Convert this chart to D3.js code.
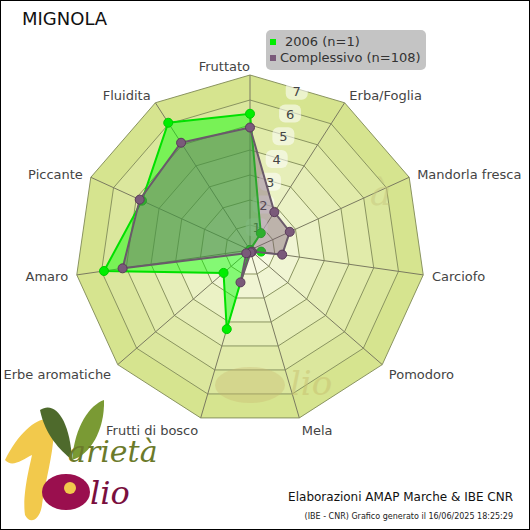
<!DOCTYPE html><html><head><meta charset="utf-8">
<script src="https://cdn.jsdelivr.net/npm/d3@7"></script>
<style>body{margin:0;background:#fff}svg{display:block;font-family:"DejaVu Sans",Verdana,sans-serif}</style>
</head><body><svg id="c" width="530" height="530"></svg>
<script>
const axesLabels=["Fruttato","Erba/Foglia","Mandorla fresca","Carciofo","Pomodoro","Mela","Frutti di bosco","Erbe aromatiche","Amaro","Piccante","Fluidita"];
const series2006=[5.45,0.8,0,0.45,0,0,3.3,1.4,5.9,4.75,6.05];
const seriesAll=[4.9,1.8,1.75,1.3,0.1,0.1,1.35,0.2,5.15,4.85,5.1];
const tickVals=[1,2,3,4,5,6,7];
const legendLabels=["2006 (n=1)","Complessivo (n=108)"];

const svg=d3.select("#c");
svg.append("rect").attr("x",0.5).attr("y",0.5).attr("width",529).attr("height",529).attr("fill","#fff").attr("stroke","#000");
const cx=250,cy=250,N=axesLabels.length;
const r=d3.scaleLinear().domain([0,7]).range([0,175]);
const ang=d3.scaleLinear().domain([0,N]).range([0,2*Math.PI]);
const pt=(i,v)=>[cx+r(v)*Math.sin(ang(i)),cy-r(v)*Math.cos(ang(i))];
const ring=v=>d3.range(N).map(i=>pt(i,v));
const line=d3.line().curve(d3.curveLinearClosed);
const col=d3.scaleLinear().domain([0,7]).range(["#fbfcee","#d6e48f"]);
const g=svg.append("g");
[...tickVals].reverse().forEach(v=>{
  g.append("path").attr("d",line(ring(v))).attr("fill",col(v)).attr("stroke","#8a9460").attr("stroke-width",1);
});
d3.range(N).forEach(i=>{const p=pt(i,7);g.append("line").attr("x1",cx).attr("y1",cy).attr("x2",p[0]).attr("y2",p[1]).attr("stroke","#7a7a60").attr("stroke-width",1);});
// watermark
g.append("text").attr("x",370).attr("y",205).attr("font-size",36).attr("font-style","italic").attr("fill","#c8c880").attr("opacity",0.5).attr("font-family","DejaVu Serif").text("à");
g.append("ellipse").attr("cx",250).attr("cy",385).attr("rx",35).attr("ry",18).attr("fill","#c8b870").attr("opacity",0.35);
g.append("text").attr("x",290).attr("y",395).attr("font-size",34).attr("font-style","italic").attr("fill","#c8c070").attr("opacity",0.5).attr("font-family","DejaVu Serif").text("lio");
// tick labels
const ta=ang(0.5);
tickVals.forEach(v=>{const rr=23.7*v;const x=cx+rr*Math.sin(ta),y=cy-rr*Math.cos(ta);
  g.append("rect").attr("x",x-11).attr("y",y-9).attr("width",22).attr("height",18).attr("rx",6).attr("fill","#fff").attr("opacity",0.55);
  g.append("text").attr("x",x).attr("y",y+5).attr("text-anchor","middle").attr("font-size",13).attr("fill","#444").text(v);});
// series
function drawSeries(vals,fill,fo,stroke,dot,dotStroke){
  const pts=vals.map((v,i)=>pt(i,v));
  g.append("path").attr("d",line(pts)).attr("fill",fill).attr("fill-opacity",fo).attr("stroke",stroke).attr("stroke-width",2);
  pts.forEach(p=>g.append("circle").attr("cx",p[0]).attr("cy",p[1]).attr("r",4.5).attr("fill",dot).attr("stroke",dotStroke).attr("stroke-width",1));
}
drawSeries(series2006,"#00ff00",0.45,"#00e000","#00ee00","#00cc00");
drawSeries(seriesAll,"#705070",0.4,"#6a5a6a","#7a5a7a","#5a3a5a");
// axis labels
axesLabels.forEach((t,i)=>{const a=ang(i),s=Math.sin(a),c=Math.cos(a);
  const p=pt(i,7.35);let anchor=Math.abs(s)<0.1?"end":(s>0?"start":"end");
  let dy=c<-0.5?9:5;
  svg.append("text").attr("x",p[0]).attr("y",p[1]+dy).attr("text-anchor",anchor).attr("font-size",13).attr("fill","#444").text(t);});
// title
svg.append("text").attr("x",22).attr("y",25).attr("font-size",18).attr("fill","#111").text("MIGNOLA");
// legend
const lg=svg.append("g");
lg.append("rect").attr("x",266).attr("y",30).attr("width",160).attr("height",40).attr("rx",5).attr("fill","#c4c4c4");
const lc=["#00ee00","#7a5a7a"];
legendLabels.forEach((t,i)=>{
  lg.append("rect").attr("x",270).attr("y",39+i*16).attr("width",6).attr("height",6).attr("fill",lc[i]);
  lg.append("text").attr("x",i==0?285:280).attr("y",46+i*16).attr("font-size",13).attr("fill","#333").text(t);});
// footer
svg.append("text").attr("x",513).attr("y",501).attr("text-anchor","end").attr("font-size",12).attr("fill","#111").text("Elaborazioni AMAP Marche & IBE CNR");
svg.append("text").attr("x",513).attr("y",519).attr("text-anchor","end").attr("font-size",8).attr("fill","#222").text("(IBE - CNR) Grafico generato il 16/06/2025 18:25:29");
// logo
const L=svg.append("g");
L.append("path").attr("d","M5,460 C20,430 40,415 52,420 C58,440 45,480 42,505 C40,520 30,525 25,515 C22,495 30,465 32,455 C22,460 12,468 5,460Z").attr("fill","#f2c94c");
L.append("path").attr("d","M40,410 C55,400 70,420 72,460 C60,450 45,435 40,410Z").attr("fill","#4e6a2c");
L.append("path").attr("d","M72,460 C75,425 90,405 104,400 C105,430 90,455 72,460Z").attr("fill","#7a9a34");
L.append("text").attr("x",68).attr("y",462).attr("font-size",30).attr("font-style","italic").attr("fill","#6b7a2a").attr("font-family","DejaVu Serif").text("arietà");
L.append("ellipse").attr("cx",66).attr("cy",492).attr("rx",24).attr("ry",18).attr("fill","#9a0f4e");
L.append("circle").attr("cx",70).attr("cy",488).attr("r",6).attr("fill","#f2c94c");
L.append("text").attr("x",90).attr("y",504).attr("font-size",32).attr("font-style","italic").attr("fill","#7a0f3e").attr("font-family","DejaVu Serif").text("lio");
</script></body></html>
